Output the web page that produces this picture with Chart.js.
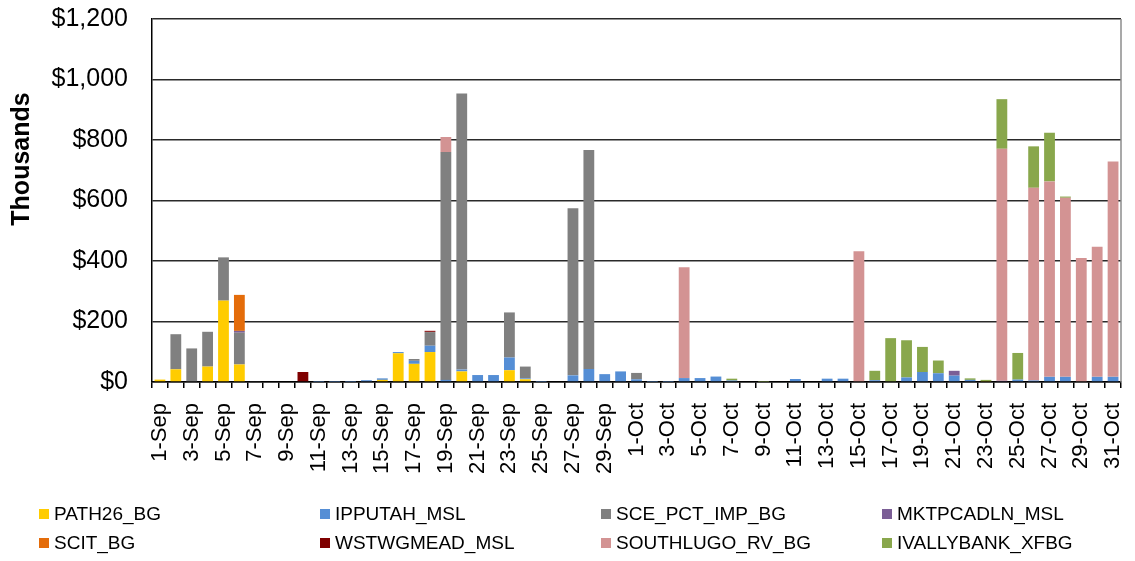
<!DOCTYPE html>
<html>
<head>
<meta charset="utf-8">
<script src="https://cdn.jsdelivr.net/npm/chart.js@4"></script>
<style>
  body { margin: 0; background: #fff; }
  #wrap { position: relative; width: 1135px; height: 561px; }
  #legend { position: absolute; left: 39px; top: 503px; display: grid; grid-template-columns: repeat(4, 281px); row-gap: 7px;
            font-family: "Liberation Sans", Arial, sans-serif; font-size: 19px; color: #000; }
  .item { display: flex; align-items: center; height: 22px; white-space: nowrap; }
  .sw { width: 10px; height: 10px; margin-right: 5px; flex: none; }
</style>
</head>
<body>
<div id="wrap">
  <canvas id="chart"></canvas>
  <div id="legend"></div>
</div>
<script>
// categories: 1-Sep .. 31-Oct
const days = [];
for (let d = 1; d <= 30; d++) days.push(d + '-Sep');
for (let d = 1; d <= 31; d++) days.push(d + '-Oct');

// values in $ thousands (one entry per day)
const path26 = [8,42,0,51,269,58,0,0,0,0, 0,0,0,0,7,95,60,99,0,35, 0,0,39,9,0,0,0,0,0,0,
                0,0,0,0,0,0,0,0,0,0, 0,0,0,0,0,0,0,0,0,0, 0,0,3,0,0,0,0,0,0,0,0];
const ipputah = [0,0,0,0,0,0,0,0,0,0, 1,1,1,6,5,4,10,21,7,6, 23,23,42,3,1,0,22,43,26,35,
                 9,1,1,13,13,18,5,0,0,0, 10,0,11,11,0,6,0,15,33,29, 21,7,0,0,8,5,17,17,0,17,17];
const scePct = [0,116,111,115,143,105,2,0,0,0, 0,0,0,0,0,0,6,45,753,913, 0,0,149,39,0,0,552,724,0,0,
                21,0,0,0,0,0,0,0,0,0, 0,0,0,0,0,0,0,0,0,0, 0,0,0,0,0,0,0,0,0,0,0];
const mktpcadln = [0,0,0,0,0,6,0,0,0,0, 0,0,0,0,0,0,0,0,0,0, 0,0,0,0,0,0,0,0,0,0,
                   0,0,0,0,0,0,0,0,0,0, 0,0,0,0,0,0,0,0,0,0, 16,0,0,4,0,0,0,0,0,0,0];
const scit = [0,0,0,0,0,119,0,0,0,0, 0,0,0,0,0,0,0,0,0,0, 0,0,0,0,0,0,0,0,0,0,
              0,0,0,0,0,0,0,0,0,0, 0,0,0,0,0,0,0,0,0,0, 0,0,0,0,0,0,0,0,0,0,0];
const wstwgmead = [0,0,0,0,0,0,0,0,0,33, 0,0,0,0,0,0,0,3,0,0, 0,0,0,0,0,0,0,0,0,0,
                   0,0,0,0,0,0,0,0,0,0, 0,0,0,0,0,0,0,0,0,0, 0,0,0,0,0,0,0,0,0,0,0];
const southlugo = [0,0,0,0,0,0,0,0,0,0, 0,0,0,0,0,0,0,2,50,0, 0,0,0,0,0,0,0,0,0,0,
                   0,0,0,366,0,0,0,0,0,0, 0,0,0,0,432,0,0,0,0,0, 0,0,0,767,0,637,646,592,410,430,712];
const ivallybank = [0,0,0,0,0,0,0,0,0,0, 0,0,0,0,0,0,0,0,0,0, 0,0,0,0,0,0,0,0,0,0,
                    0,0,0,0,0,0,6,0,1,0, 0,0,0,0,0,31,145,123,83,42, 0,5,4,164,88,137,161,4,0,0,0];

const yTicks = [0, 200, 400, 600, 800, 1000, 1200];

const seriesNames = ['PATH26_BG','IPPUTAH_MSL','SCE_PCT_IMP_BG','MKTPCADLN_MSL','SCIT_BG','WSTWGMEAD_MSL','SOUTHLUGO_RV_BG','IVALLYBANK_XFBG'];
const seriesData = [path26, ipputah, scePct, mktpcadln, scit, wstwgmead, southlugo, ivallybank];
const seriesColors = ['#FFCC00','#558ED5','#808080','#7B5E96','#E46C0A','#7F0000','#D39393','#89A74C'];

const FONT = '"Liberation Sans", Arial, sans-serif';

// right-hand border of the plot area + the axis title (sits above centre in the original)
const extras = {
  id: 'extras',
  afterDraw(chart) {
    const { ctx, chartArea: a } = chart;
    ctx.save();
    ctx.strokeStyle = '#8c8c8c';
    ctx.lineWidth = 1.5;
    ctx.beginPath();
    ctx.moveTo(a.right, a.top);
    ctx.lineTo(a.right, a.bottom);
    ctx.stroke();

    ctx.translate(22, 159);
    ctx.rotate(-Math.PI / 2);
    ctx.font = 'bold 25px ' + FONT;
    ctx.fillStyle = '#000';
    ctx.textAlign = 'center';
    ctx.textBaseline = 'middle';
    ctx.fillText('Thousands', 0, 0);
    ctx.restore();
  }
};

const chart = new Chart(document.getElementById('chart'), {
  type: 'bar',
  data: {
    labels: days,
    datasets: seriesNames.map((name, i) => ({
      label: name,
      data: seriesData[i],
      backgroundColor: seriesColors[i],
      borderWidth: 0,
      categoryPercentage: 1,
      barPercentage: 0.68
    }))
  },
  options: {
    responsive: true,
    maintainAspectRatio: false,
    animation: false,
    layout: { padding: { top: 19, right: 14, bottom: 81, left: 0 } },
    plugins: { legend: { display: false }, tooltip: { enabled: false } },
    scales: {
      x: {
        stacked: true,
        afterFit: s => { s.height = 98; s.paddingLeft = 0; s.paddingRight = 0; },
        border: { color: '#000', width: 1.5 },
        grid: { drawOnChartArea: false, drawTicks: true, tickLength: 6, color: '#000', lineWidth: 1.5 },
        ticks: {
          autoSkip: false, minRotation: 90, maxRotation: 90, padding: 15,
          color: '#000', font: { family: FONT, size: 22 },
          callback: (v, i) => (i % 2 === 0 ? days[i] : '')
        }
      },
      y: {
        stacked: true,
        min: 0, max: 1200,
        afterFit: s => { s.width = 152; s.paddingTop = 0; s.paddingBottom = 0; },
        afterBuildTicks: s => { s.ticks = yTicks.map(v => ({ value: v })); },
        border: { color: '#000', width: 1.5 },
        grid: { color: '#2a2a2a', lineWidth: 1.5, drawTicks: false },
        ticks: {
          padding: 24, color: '#000', font: { family: FONT, size: 25 },
          callback: v => '$' + v.toLocaleString('en-US')
        },
        title: { display: false }
      }
    }
  },
  plugins: [extras]
});

// legend in a 4-column grid like the original
const legendEl = document.getElementById('legend');
chart.data.datasets.forEach(ds => {
  const item = document.createElement('div');
  item.className = 'item';
  item.innerHTML = '<span class="sw" style="background:' + ds.backgroundColor + '"></span>' + ds.label;
  legendEl.appendChild(item);
});
</script>
</body>
</html>
